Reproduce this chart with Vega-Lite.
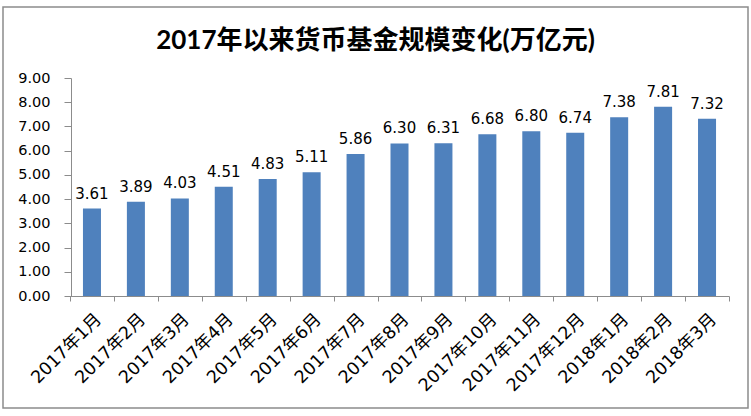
{
  "$schema": "https://vega.github.io/schema/vega-lite/v6.json",
  "width": 745,
  "height": 401,
  "autosize": {"type": "none"},
  "padding": {"left": 3, "top": 7, "right": 3, "bottom": 8},
  "background": "white",
  "config": {
    "view": {"stroke": "#8c8c8c", "strokeWidth": 1.5},
    "font": "DejaVu Sans, Noto Sans CJK SC"
  },
  "title": {
    "text": "2017年以来货币基金规模变化(万亿元)",
    "fontSize": 26,
    "fontWeight": "bold",
    "font": "Lato, Noto Sans CJK SC",
    "color": "black",
    "offset": -47,
    "anchor": "middle"
  },
  "data": {
    "values": [
      {"m": "2017年1月", "v": 3.61},
      {"m": "2017年2月", "v": 3.89},
      {"m": "2017年3月", "v": 4.03},
      {"m": "2017年4月", "v": 4.51},
      {"m": "2017年5月", "v": 4.83},
      {"m": "2017年6月", "v": 5.11},
      {"m": "2017年7月", "v": 5.86},
      {"m": "2017年8月", "v": 6.30},
      {"m": "2017年9月", "v": 6.31},
      {"m": "2017年10月", "v": 6.68},
      {"m": "2017年11月", "v": 6.80},
      {"m": "2017年12月", "v": 6.74},
      {"m": "2018年1月", "v": 7.38},
      {"m": "2018年2月", "v": 7.81},
      {"m": "2018年3月", "v": 7.32}
    ]
  },
  "encoding": {
    "x": {
      "field": "m",
      "type": "nominal",
      "sort": null,
      "scale": {"range": [67, 726], "paddingInner": 0, "paddingOuter": 0},
      "axis": {
        "title": null,
        "offset": -112,
        "tickBand": "extent",
        "tickSize": 5,
        "tickColor": "#8c8c8c",
        "domainColor": "#8c8c8c",
        "grid": false,
        "labelAngle": -45,
        "labelAlign": "right",
        "labelBaseline": "top",
        "labelFont": "DejaVu Sans, Noto Sans CJK SC",
        "labelFontSize": 17.5,
        "labelColor": "black",
        "labelPadding": 9
      }
    },
    "y": {
      "field": "v",
      "type": "quantitative",
      "scale": {"domain": [0, 9], "range": [289, 71], "nice": false, "zero": true},
      "axis": {
        "title": null,
        "offset": -68,
        "values": [0, 1, 2, 3, 4, 5, 6, 7, 8, 9],
        "format": ".2f",
        "labelFontSize": 14.5,
        "labelColor": "black",
        "labelFont": "DejaVu Sans",
        "tickSize": 7,
        "tickColor": "#8c8c8c",
        "domainColor": "#8c8c8c",
        "grid": false,
        "labelPadding": 14
      }
    }
  },
  "layer": [
    {
      "mark": {"type": "bar", "color": "#4f81bd", "width": {"band": 0.41}}
    },
    {
      "mark": {"type": "text", "baseline": "bottom", "dy": -7, "fontSize": 15, "font": "DejaVu Sans", "color": "black"},
      "encoding": {
        "text": {"field": "v", "type": "quantitative", "format": ".2f"}
      }
    }
  ]
}
